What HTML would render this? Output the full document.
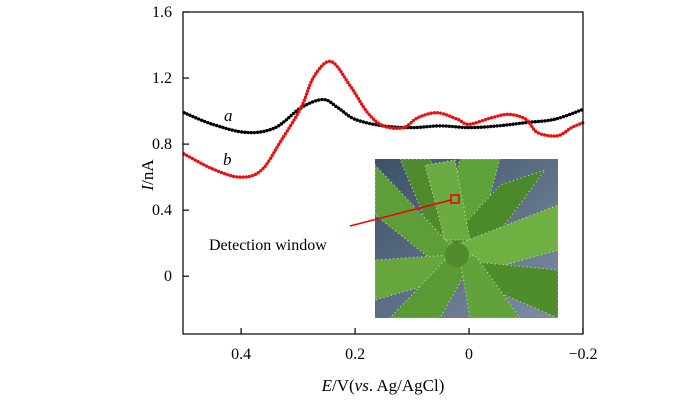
<!DOCTYPE html>
<html><head><meta charset="utf-8"><style>
body{margin:0;background:#fff;}
svg{display:block;font-family:"Liberation Serif",serif;}
</style></head><body>
<svg id="chart" width="700" height="400" xmlns="http://www.w3.org/2000/svg">
<defs>
<linearGradient id="bg" x1="0" y1="0" x2="1" y2="1"><stop offset="0" stop-color="#3c5068"/><stop offset="1" stop-color="#7e8ea4"/></linearGradient>
<clipPath id="pc"><rect x="375" y="159" width="183" height="159"/></clipPath>
</defs>
<g clip-path="url(#pc)">
<rect x="375" y="159" width="183" height="159" fill="url(#bg)"/>
<g stroke="#d8e8a8" stroke-width="1" stroke-dasharray="1 3">
<polygon points="440,255 400,159 430,159 470,245" fill="#4f8a2e"/>
<polygon points="440,245 460,159 500,159 475,250" fill="#5ea23a"/>
<polygon points="450,240 500,185 545,170 475,265" fill="#4a8a2a"/>
<polygon points="455,250 375,165 375,215 445,270" fill="#5e9e38"/>
<polygon points="455,245 558,205 558,250 470,275" fill="#6fb043"/>
<polygon points="455,260 558,270 558,318 470,280" fill="#4e8c2c"/>
<polygon points="450,255 375,260 375,300 445,280" fill="#66a63d"/>
<polygon points="445,260 390,318 440,318 470,265" fill="#5a9a35"/>
<polygon points="460,260 470,318 520,318 475,255" fill="#62a23a"/>
<polygon points="445,240 425,165 455,160 470,240" fill="#6aac42"/>
</g>
<circle cx="457" cy="255" r="12" fill="#4f8a2e"/>
</g>
<rect x="451" y="195" width="8" height="8" fill="none" stroke="#e00" stroke-width="1.5"/>
<line x1="350" y1="226" x2="451" y2="200" stroke="#e00" stroke-width="1.5"/>
<text x="209" y="250" font-size="16">Detection window</text>
<g id="plot"></g>
<rect x="183" y="12" width="400" height="322" fill="none" stroke="#000" stroke-width="1.2"/>
<text x="224" y="121" font-size="17" font-style="italic">a</text>
<text x="223" y="165" font-size="17" font-style="italic">b</text>
<text transform="translate(153,175) rotate(-90)" text-anchor="middle" font-size="17"><tspan font-style="italic">I</tspan>/nA</text>
<text x="383" y="391" text-anchor="middle" font-size="17"><tspan font-style="italic">E</tspan>/V(<tspan font-style="italic">vs</tspan>. Ag/AgCl)</text>
</svg>
<script>
const xTicks=[0.4,0.2,0,-0.2];
const xTickLabels=["0.4","0.2","0","\u22120.2"];
const yTicks=[0,0.4,0.8,1.2,1.6];
const yTickLabels=["0","0.4","0.8","1.2","1.6"];
const seriesA_E=[0.5,0.45,0.39,0.34,0.295,0.256,0.23,0.2,0.15,0.1,0.05,0,-0.05,-0.1,-0.15,-0.2];
const seriesA_I=[0.99,0.92,0.87,0.90,1.02,1.07,1.02,0.95,0.91,0.90,0.91,0.90,0.91,0.93,0.95,1.01];
const seriesB_E=[0.5,0.45,0.403,0.365,0.33,0.295,0.272,0.242,0.208,0.178,0.15,0.115,0.09,0.056,0.02,0,-0.04,-0.07,-0.1,-0.12,-0.155,-0.18,-0.2];
const seriesB_I=[0.74,0.65,0.60,0.64,0.82,1.02,1.21,1.30,1.15,0.99,0.91,0.90,0.96,0.99,0.95,0.92,0.96,0.98,0.95,0.87,0.85,0.90,0.93];
const X0=183,X1=583,Y0=334,Y1=12,EMAX=0.502,EMIN=-0.2,IMIN=-0.35,IMAX=1.6;
function xs(e){return X0+(EMAX-e)/(EMAX-EMIN)*(X1-X0);}
function ys(i){return Y0-(i-IMIN)/(IMAX-IMIN)*(Y0-Y1);}
const NS="http://www.w3.org/2000/svg";
const g=document.getElementById('plot');
function mk(t,a){const el=document.createElementNS(NS,t);for(const k in a)el.setAttribute(k,a[k]);g.appendChild(el);return el;}
xTicks.forEach((v,i)=>{
 const t=mk('line',{x1:xs(v),x2:xs(v),y1:Y0,y2:Y0-6,stroke:'#000','stroke-width':1.2});
 
 
 const l=mk('text',{x:xs(v),y:Y0+25,'text-anchor':'middle','font-size':16});
 l.textContent=xTickLabels[i];
 
 
});
yTicks.forEach((v,i)=>{
 const t=mk('line',{x1:X0,x2:X0+6,y1:ys(v),y2:ys(v),stroke:'#000','stroke-width':1.2});
 
 
 const l=mk('text',{x:X0-11,y:ys(v)+5,'text-anchor':'end','font-size':16});
 l.textContent=yTickLabels[i];
 
 
});
function series(E,I,color,name){
 const P=E.map((e,k)=>[xs(e),ys(I[k])]);
 let d='M'+P[0][0].toFixed(1)+','+P[0][1].toFixed(1);
 for(let k=0;k<P.length-1;k++){
  const p0=P[Math.max(0,k-1)],p1=P[k],p2=P[k+1],p3=P[Math.min(P.length-1,k+2)];
  const c1=[p1[0]+(p2[0]-p0[0])/6,p1[1]+(p2[1]-p0[1])/6];
  const c2=[p2[0]-(p3[0]-p1[0])/6,p2[1]-(p3[1]-p1[1])/6];
  d+='C'+c1[0].toFixed(1)+','+c1[1].toFixed(1)+' '+c2[0].toFixed(1)+','+c2[1].toFixed(1)+' '+p2[0].toFixed(1)+','+p2[1].toFixed(1);
 }
 const p=mk('path',{d:d,fill:'none',stroke:color,'stroke-width':3.4,'stroke-linecap':'round','stroke-linejoin':'round','stroke-dasharray':'0 3.2'});
 
 
}
series(seriesA_E,seriesA_I,'#000','series-a-curve');
series(seriesB_E,seriesB_I,'#e81010','series-b-curve');
</script>
</body></html>
